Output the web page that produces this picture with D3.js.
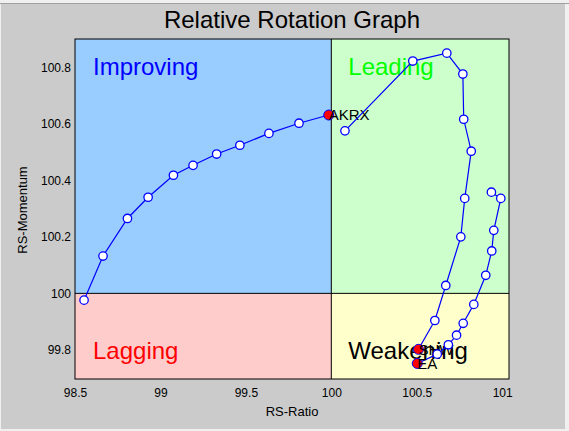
<!DOCTYPE html>
<html>
<head>
<meta charset="utf-8">
<script src="https://cdn.jsdelivr.net/npm/d3@7"></script>
<style>
  body { margin: 0; background: #f0f0f0; font-family: "Liberation Sans", Arial, sans-serif; }
</style>
</head>
<body>
<div id="chart"></div>
<script>
// tickers and their trails (RS-Ratio, RS-Momentum), oldest point first
var tickers = ["AKRX", "SHW", "EA"];

var akrxRatio    = [98.553, 98.664, 98.807, 98.928, 99.076, 99.191, 99.329, 99.465, 99.635, 99.811, 99.985];
var akrxMomentum = [99.976, 100.132, 100.265, 100.340, 100.418, 100.453, 100.493, 100.524, 100.566, 100.602, 100.631];

var shwRatio    = [100.080, 100.477, 100.676, 100.770, 100.775, 100.819, 100.781, 100.758, 100.670, 100.606, 100.510];
var shwMomentum = [100.575, 100.822, 100.850, 100.776, 100.616, 100.503, 100.336, 100.200, 100.028, 99.904, 99.802];

var eaRatio    = [100.937, 100.992, 100.951, 100.939, 100.904, 100.834, 100.772, 100.733, 100.685, 100.620, 100.503];
var eaMomentum = [100.358, 100.336, 100.223, 100.150, 100.064, 99.961, 99.894, 99.852, 99.818, 99.785, 99.752];

var quadrants = ["Improving", "Leading", "Lagging", "Weakening"];
var xTicks = [98.5, 99, 99.5, 100, 100.5, 101];
var yTicks = [99.8, 100, 100.2, 100.4, 100.6, 100.8];

var width = 569, height = 431;
var plot = { left: 75, right: 509, top: 39, bottom: 379 };

var svg = d3.select("#chart").append("svg")
    .attr("width", width)
    .attr("height", height)
    .style("display", "block");

// window background
svg.append("rect").attr("x", 1).attr("y", 4).attr("width", 564).attr("height", 425).attr("fill", "#cbcbcb");
svg.append("line").attr("x1", 0).attr("x2", width).attr("y1", 3.5).attr("y2", 3.5).attr("stroke", "#a0a0a0");

var x = d3.scaleLinear().domain([98.5, 101.04]).range([plot.left, plot.right]);
var y = d3.scaleLinear().domain([99.697, 100.9]).range([plot.bottom, plot.top]);

// quadrant backgrounds
var quadFill = { Improving: "#99ccff", Leading: "#ccffcc", Lagging: "#ffcccc", Weakening: "#ffffcc" };
var quadText = { Improving: "#0000ff", Leading: "#00ff00", Lagging: "#ff0000", Weakening: "#000000" };
var quadBox = {
    Improving: [98.5, 100, 100, 100.9],
    Leading:   [100, 101.04, 100, 100.9],
    Lagging:   [98.5, 100, 99.697, 100],
    Weakening: [100, 101.04, 99.697, 100]
};

svg.selectAll("rect.quad")
    .data(quadrants)
    .enter()
    .append("rect")
    .attr("class", "quad")
    .attr("x", d => x(quadBox[d][0]))
    .attr("y", d => y(quadBox[d][3]))
    .attr("width", d => x(quadBox[d][1]) - x(quadBox[d][0]))
    .attr("height", d => y(quadBox[d][2]) - y(quadBox[d][3]))
    .attr("fill", d => quadFill[d]);

// center lines at 100
svg.append("line")
    .attr("x1", x(100)).attr("x2", x(100))
    .attr("y1", plot.top).attr("y2", plot.bottom)
    .attr("stroke", "black");
svg.append("line")
    .attr("x1", plot.left).attr("x2", plot.right)
    .attr("y1", y(100)).attr("y2", y(100))
    .attr("stroke", "black");

svg.append("rect")
    .attr("x", plot.left).attr("y", plot.top)
    .attr("width", plot.right - plot.left).attr("height", plot.bottom - plot.top)
    .attr("fill", "none").attr("stroke", "black");

// quadrant labels
svg.selectAll("text.quad")
    .data(quadrants)
    .enter()
    .append("text")
    .attr("class", "quad")
    .attr("x", d => (quadBox[d][0] == 100 ? x(100) + 17 : plot.left + 18))
    .attr("y", d => (quadBox[d][2] == 100 ? 75 : 359))
    .attr("font-size", "24px")
    .attr("fill", d => quadText[d])
    .text(d => d);

// axes
var xAxis = d3.axisBottom(x).tickValues(xTicks).tickSize(0).tickPadding(9).tickFormat(d => String(d));
var yAxis = d3.axisLeft(y).tickValues(yTicks).tickSize(0).tickPadding(4).tickFormat(d => String(d));

var gx = svg.append("g").attr("transform", `translate(0, ${plot.bottom})`).call(xAxis);
var gy = svg.append("g").attr("transform", `translate(${plot.left}, 0)`).call(yAxis);
[gx, gy].forEach(function(g) {
    g.select(".domain").remove();
    g.selectAll("text")
        .attr("font-family", "Liberation Sans, Arial, sans-serif")
        .attr("font-size", "12px")
        .attr("fill", "#000");
});

// titles
svg.append("text")
    .attr("x", (plot.left + plot.right) / 2)
    .attr("y", 28)
    .attr("text-anchor", "middle")
    .attr("font-size", "24px")
    .text("Relative Rotation Graph");

svg.append("text")
    .attr("x", (plot.left + plot.right) / 2)
    .attr("y", 416)
    .attr("text-anchor", "middle")
    .attr("font-size", "13px")
    .text("RS-Ratio");

svg.append("text")
    .attr("transform", "rotate(-90)")
    .attr("x", -210)
    .attr("y", 27)
    .attr("text-anchor", "middle")
    .attr("font-size", "13px")
    .text("RS-Momentum");

// trails
var trails = [
    { name: tickers[0], xs: akrxRatio, ys: akrxMomentum },
    { name: tickers[1], xs: shwRatio,  ys: shwMomentum },
    { name: tickers[2], xs: eaRatio,   ys: eaMomentum }
];

var line = d3.line().x(d => x(d[0])).y(d => y(d[1]));

trails.forEach(function(t) {
    var pts = t.xs.map((v, i) => [v, t.ys[i]]);
    var g = svg.append("g");

    g.append("path")
        .attr("d", line(pts))
        .attr("fill", "none")
        .attr("stroke", "#0000ff")
        .attr("stroke-width", 1.2);

    g.selectAll("circle")
        .data(pts.slice(0, -1))
        .enter()
        .append("circle")
        .attr("cx", d => x(d[0]))
        .attr("cy", d => y(d[1]))
        .attr("r", 4.2)
        .attr("fill", "white")
        .attr("stroke", "#0000ff")
        .attr("stroke-width", 1.3);

    var head = pts[pts.length - 1];
    g.append("circle")
        .attr("cx", x(head[0]))
        .attr("cy", y(head[1]))
        .attr("r", 5)
        .attr("fill", "#ff0000")
        .attr("stroke", "#0000ff")
        .attr("stroke-width", 1);

    g.append("text")
        .attr("x", x(head[0]))
        .attr("y", y(head[1]))
        .attr("dy", "0.35em")
        .attr("font-size", "15px")
        .attr("fill", "#000")
        .text(t.name);
});
</script>
</body>
</html>
